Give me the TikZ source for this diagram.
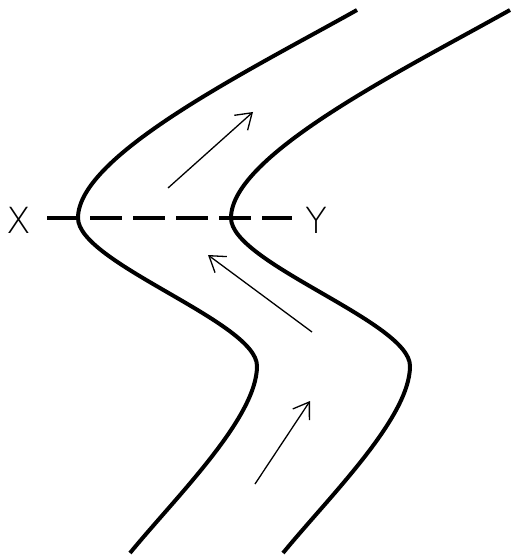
\documentclass[tikz,border=0pt]{standalone}
\usepackage{fontspec}
\setmainfont{Liberation Sans}
\IfFontExistsTF{DejaVu Sans ExtraLight}
  {\newfontfamily\thinfont{DejaVu Sans ExtraLight}}
  {\newfontfamily\thinfont{Liberation Sans}}
\usetikzlibrary{arrows.meta,positioning}

\begin{document}
\begin{tikzpicture}[x=1pt,y=-1pt,
  bank/.style={line width=4pt},
  flow/.style={line width=1.3pt,-{Straight Barb[length=15pt,width=20pt]}},
  lbl/.style={font=\thinfont\fontsize{36}{40}\selectfont,inner sep=0pt}]
  \useasboundingbox (0,0) rectangle (512,556);
  % channel banks
  \draw[bank] (357,10) .. controls (250,70) and (78,155) .. (78,218)
    .. controls (78,263) and (257,322) .. (257,366)
    .. controls (257,418) and (175,498) .. (130,553);
  \draw[bank,xshift=153pt] (357,10) .. controls (250,70) and (78,155) .. (78,218)
    .. controls (78,263) and (257,322) .. (257,366)
    .. controls (257,418) and (175,498) .. (130,553);
  \node[lbl] (x) at (19,220) {X};
  \node[lbl] (y) at (316,220) {Y};
  \coordinate (xs) at (47,218);
  \coordinate (ye) at (292,218);
  \draw[line width=4pt,dash pattern=on 32pt off 11pt] (xs) -- (ye);
  % flow arrows
  \coordinate (a1) at (168,188); \coordinate (b1) at (253,112);
  \coordinate (a2) at (312,332); \coordinate (b2) at (208,255);
  \coordinate (a3) at (255,484); \coordinate (b3) at (310,401);
  \draw[flow] (a1) -- (b1);
  \draw[flow] (a2) -- (b2);
  \draw[flow] (a3) -- (b3);
\end{tikzpicture}
\end{document}
